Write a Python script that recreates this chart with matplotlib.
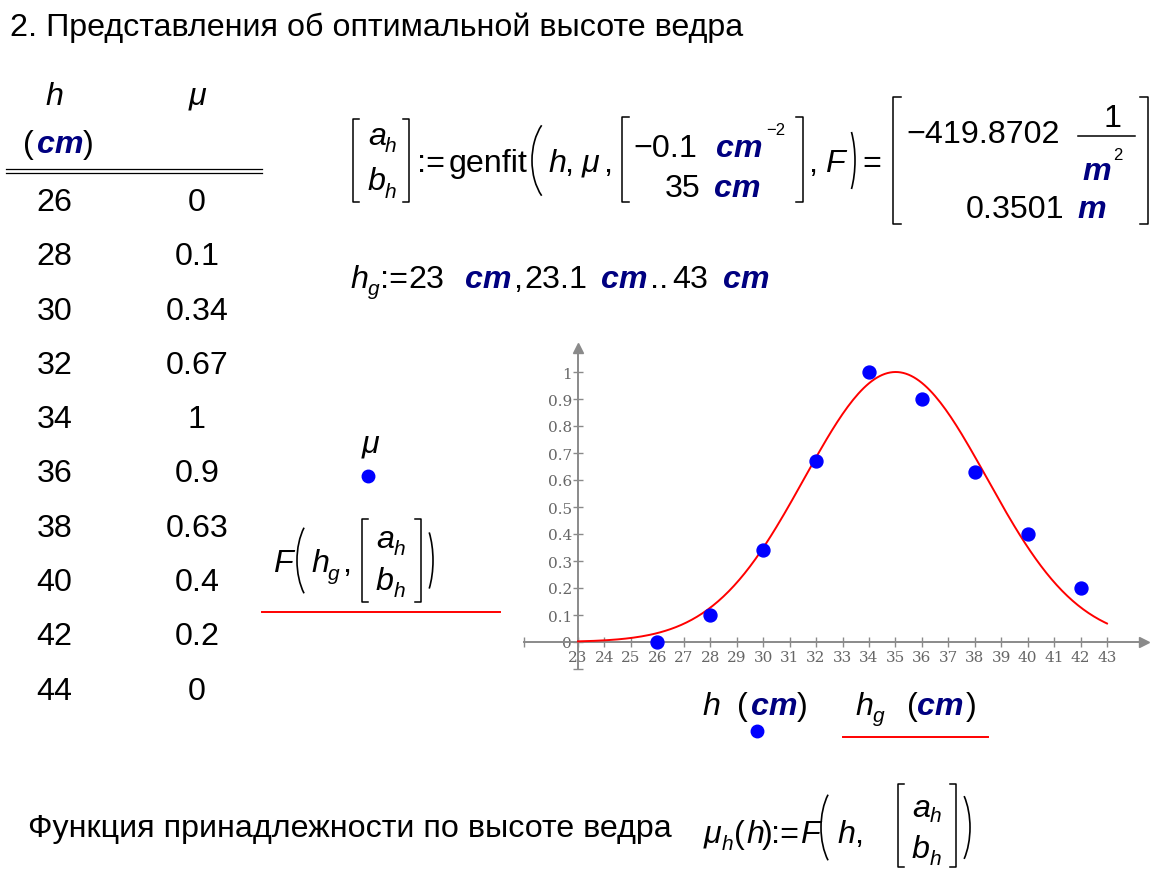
import numpy as np
import matplotlib
matplotlib.use("Agg")
import matplotlib.pyplot as plt
from matplotlib.transforms import IdentityTransform
from matplotlib.lines import Line2D
from matplotlib.patches import Arc
from matplotlib.ticker import FuncFormatter

# table data: h (cm) and membership mu
h_cm = [26, 28, 30, 32, 34, 36, 38, 40, 42, 44]
mu = [0, 0.1, 0.34, 0.67, 1, 0.9, 0.63, 0.4, 0.2, 0]

# genfit result: a_h in 1/m^2, b_h in m
a_h = -419.8702
b_h = 0.3501

# range h_g := 23 cm, 23.1 cm .. 43 cm
hg_first, hg_second, hg_last = 23, 23.1, 43

x_ticks = [23, 24, 25, 26, 27, 28, 29, 30, 31, 32, 33, 34, 35, 36, 37, 38, 39, 40, 41, 42, 43]
y_ticks = [0, 0.1, 0.2, 0.3, 0.4, 0.5, 0.6, 0.7, 0.8, 0.9, 1]

W, H = 1158, 879
fig = plt.figure(figsize=(W / 100, H / 100), dpi=100)
PIX = IdentityTransform()
FS, SUB, SUP = 23.2, 15, 12
NAVY = "#000080"
GRAY = "#8a8a8a"


def put(x, y, s, size=FS, color="black", style="normal", weight="normal", ha="left"):
    # text in image pixel coords, y measured from the top, y = baseline
    fig.text(x, H - y, s, transform=PIX, fontsize=size, color=color, fontstyle=style,
             fontweight=weight, ha=ha, va="baseline", family="Liberation Sans")


def it(x, y, s, size=FS):
    put(x, y, s, size=size, style="italic")


def unit(x, y, s):
    put(x, y, s, color=NAVY, style="italic", weight="bold")


def line(xs, ys, color="black", lw=1.1):
    fig.add_artist(Line2D(xs, [H - y for y in ys], transform=PIX, color=color, lw=lw))


def bracket(x, y0, y1, left=True, w=6):
    d = w if left else -w
    line([x + d, x, x, x + d], [y0, y0, y1, y1])


def paren(x0, x1, y0, y1, left=True):
    t = 60
    b = (y1 - y0) / 2 / np.sin(np.radians(t))
    a = (x1 - x0) / (1 - np.cos(np.radians(t)))
    cy = H - (y0 + y1) / 2
    if left:
        cx, th1, th2 = x0 + a, 180 - t, 180 + t
    else:
        cx, th1, th2 = x1 - a, -t, t
    fig.add_artist(Arc((cx, cy), 2 * a, 2 * b, theta1=th1, theta2=th2,
                       transform=PIX, color="black", lw=1.2))


def dot(x, y):
    fig.add_artist(Line2D([x], [H - y], transform=PIX, marker="o", ms=9,
                          color="blue", lw=0))


# title
put(10, 36, "2. Представления об оптимальной высоте ведра")

# table
put(54.5, 105, "h", style="italic", ha="center")
put(197, 105, "μ", style="italic", ha="center")
put(23, 153, "(")
unit(37, 153, "cm")
put(83, 153, ")")
line([6, 262], [170, 170], lw=0.9)
line([6, 262], [174, 174], lw=0.9)
for i, (hv, mv) in enumerate(zip(h_cm, mu)):
    y = 211 + i * 54.3
    put(54.5, y, str(hv), ha="center")
    put(197, y, f"{mv:g}", ha="center")

# [a_h; b_h] := genfit(h, mu, [-0.1 cm^-2; 35 cm], F) = [...]
bracket(353, 120, 203, True)
it(368, 145, "a")
it(385, 152, "h", SUB)
it(368, 190, "b")
it(385, 198, "h", SUB)
bracket(409, 120, 203, False)
put(417, 172, ":=")
put(449, 172, "genfit")
paren(532, 547, 120, 203, True)
it(548, 172, "h")
put(564, 172, ",")
it(582, 172, "μ")
put(603, 172, ",")
bracket(622, 118, 203, True, 7)
put(633, 157, "−0.1")
unit(716, 157, "cm")
put(766, 135, "−2", size=SUP)
put(665, 197, "35")
unit(714, 197, "cm")
bracket(803, 118, 203, False, 7)
put(808, 172, ",")
it(826, 172, "F")
paren(845, 855, 118, 205, False)
put(862, 172, "=")
bracket(893, 98, 225, True, 8)
put(906, 143, "−419.8702")
put(1103, 127, "1")
line([1078, 1135], [137, 137])
unit(1082, 180, "m")
put(1113, 160, "2", size=SUP)
put(966, 218, "0.3501")
unit(1077, 218, "m")
bracket(1148, 98, 225, False, 8)

# h_g := 23 cm, 23.1 cm .. 43 cm
it(350, 288, "h")
it(368, 295, "g", SUB)
put(380, 288, ":=")
put(408, 288, "23")
unit(465, 288, "cm")
put(513, 288, ",")
put(524, 288, "23.1")
unit(601, 288, "cm")
put(650, 288, "..")
put(672, 288, "43")
unit(723, 288, "cm")

# y-axis legend
it(362, 453, "μ")
dot(368, 477)
it(274, 572, "F")
paren(297, 310, 520, 603, True)
it(311, 572, "h")
it(328, 580, "g", SUB)
put(342, 572, ",")
bracket(362, 520, 603, True)
it(376, 548, "a")
it(394, 555, "h", SUB)
it(376, 590, "b")
it(394, 597, "h", SUB)
bracket(421, 520, 603, False)
paren(423, 433, 520, 603, False)
line([262, 500], [613, 613], color="red", lw=1.4)

# x-axis legend
it(702, 715, "h")
put(737, 715, "(")
unit(751, 715, "cm")
put(797, 715, ")")
dot(757, 732)
it(855, 715, "h")
it(873, 722, "g", SUB)
put(907, 715, "(")
unit(917, 715, "cm")
put(966, 715, ")")
line([843, 988], [738, 738], color="red", lw=1.4)

# bottom definition
put(28, 837, "Функция принадлежности по высоте ведра")
it(704, 843, "μ")
it(722, 850, "h", SUB)
put(734, 843, "(")
it(746, 843, "h")
put(762, 843, ")")
put(771, 843, ":=")
it(801, 843, "F")
paren(821, 834, 787, 870, True)
it(837, 843, "h")
put(854, 843, ",")
bracket(898, 785, 868, True)
it(912, 817, "a")
it(930, 822, "h", SUB)
it(912, 858, "b")
it(930, 865, "h", SUB)
bracket(956, 785, 868, False)
paren(958, 970, 787, 870, False)

# plot area (pixel position of h=23 and mu=0, pixels per unit)
X0, XS = 578, 26.45
Y0, YS = 643, 270
L, R, T, B = 520, 1150, 340, 680
ax = fig.add_axes([L / W, (H - B) / H, (R - L) / W, (B - T) / H])
ax.set_xlim(23 + (L - X0) / XS, 23 + (R - X0) / XS)
ax.set_ylim((Y0 - B) / YS, (Y0 - T) / YS)
ax.patch.set_visible(False)

hg = np.arange(hg_first, hg_last + 1e-9, hg_second - hg_first)
a_cm = a_h / 1e4
b_cm = b_h * 100
ax.plot(hg, np.exp(a_cm * (hg - b_cm) ** 2), color="red", lw=1.4, zorder=3)

h_arr = np.array(h_cm)
mu_arr = np.array(mu)
vis = (h_arr >= hg_first) & (h_arr <= hg_last)
ax.plot(h_arr[vis], mu_arr[vis], "o", color="blue", ms=9.3, zorder=4, clip_on=False)

ax.spines["top"].set_visible(False)
ax.spines["right"].set_visible(False)
ax.spines["left"].set_position(("data", 23))
ax.spines["bottom"].set_position(("data", 0))
ax.spines["left"].set_bounds(-0.1, 1.08)
ax.spines["bottom"].set_bounds(20.96, 44.3)
for s in ["left", "bottom"]:
    ax.spines[s].set_color(GRAY)
    ax.spines[s].set_linewidth(1.4)
ax.plot([44.4], [0], ">", color=GRAY, ms=7, clip_on=False)
ax.plot([23], [1.09], "^", color=GRAY, ms=7, clip_on=False)
ax.plot([20.96], [0], "|", color=GRAY, ms=7, mew=1, clip_on=False)
ax.plot([23], [-0.1], "_", color=GRAY, ms=7, mew=1, clip_on=False)

ax.set_xticks(x_ticks)
ax.set_yticks(y_ticks)
ax.yaxis.set_major_formatter(FuncFormatter(lambda v, p: f"{v:g}"))
ax.tick_params(direction="inout", length=7, width=1, color=GRAY, labelcolor="#666666",
               labelsize=11)
ax.tick_params(axis="x", pad=2)
ax.tick_params(axis="y", pad=1)
for lab in ax.get_xticklabels() + ax.get_yticklabels():
    lab.set_family("DejaVu Serif")

fig.savefig("out.png", dpi=100)
